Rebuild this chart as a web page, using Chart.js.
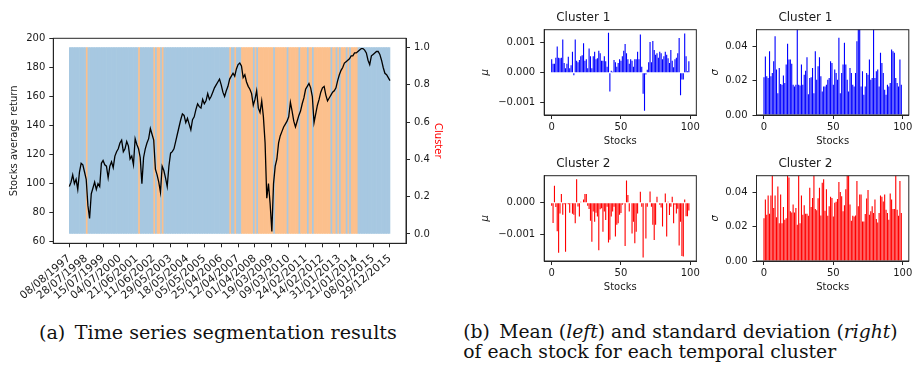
<!DOCTYPE html>
<html><head><meta charset="utf-8">
<script src="https://cdn.jsdelivr.net/npm/chart.js@4.4.1/dist/chart.umd.min.js"></script>
<style>
html,body{margin:0;padding:0;background:#fff;width:920px;height:367px;overflow:hidden;position:relative}
canvas{position:absolute}
.cap{position:absolute;font-family:"DejaVu Serif",serif;white-space:nowrap;color:#111;line-height:1}
</style></head><body>
<canvas id="ts" width="460" height="320" style="left:0;top:0"></canvas>
<canvas id="m1" width="232" height="150" style="left:470px;top:0"></canvas>
<canvas id="s1" width="218" height="150" style="left:702px;top:0"></canvas>
<canvas id="m2" width="232" height="150" style="left:470px;top:146px"></canvas>
<canvas id="s2" width="218" height="150" style="left:702px;top:146px"></canvas>
<div class="cap" id="capA">(a)&ensp;Time series segmentation results</div>
<div class="cap" id="capB1">(b)&ensp;Mean (<i>left</i>) and standard deviation (<i>right</i>)</div>
<div class="cap" id="capB2">of each stock for each temporal cluster</div>
<script>
// ---------- data ----------
const dateLabels = ['08/08/1997','28/07/1998','15/07/1999','04/07/2000','21/06/2001','11/06/2002','29/05/2003','18/05/2004','05/05/2005','25/04/2006','12/04/2007','01/04/2008','19/03/2009','09/03/2010','24/02/2011','14/02/2012','31/01/2013','21/01/2014','08/01/2015','29/12/2015'];
const sampleStep = 0.1; // samples per tick interval
const avgReturn = [98,101,106,100,103,96,108,114,113,108,103,
85,76,93,97,101,96,100,98,114,116,
113,112,104,112,115,111,119,122,124,128,
130,122,124,129,126,117,119,113,131,127,
124,118,100,118,124,128,131,138,134,130,
110,106,101,94,112,109,104,98,112,121,
122,124,129,134,139,144,148,147,142,145,
141,137,144,146,151,155,153,152,158,155,
157,162,158,160,163,166,168,170,172,168,
163,160,164,167,172,174,176,174,179,182,
183,181,173,175,170,167,165,162,154,158,
164,152,149,157,146,128,90,100,86,67,
100,112,117,128,133,136,139,141,143,146,
156,150,143,139,143,147,150,155,159,165,
167,169,166,160,142,148,154,158,163,166,
167,161,157,159,161,163,164,166,171,175,
178,180,183,184,185,186,188,188,190,190,
191,192,193,193,192,190,185,182,188,189,
190,191,191,189,185,180,176,175,173,171];
const clusterLabels = [
0,0,0,0,0,0,0,0,0,0,
1,0,0,0,0,0,0,0,0,0,
0,0,0,0,0,0,0,0,0,0,
0,0,0,0,0,0,0,0,0,0,
0,1,0,0,0,0,0,0,0,0,
1,0,1,1,0,1,0,0,0,0,
0,0,0,0,0,0,0,0,0,0,
0,0,0,0,0,0,0,0,0,0,
0,0,0,0,0,0,0,0,0,0,
0,0,0,0,0,1,0,0,1,0,
0,0,1,1,1,1,1,1,1,0,
1,0,1,1,1,1,1,1,1,1,
1,0,1,1,1,1,1,1,1,0,
1,1,1,1,1,1,0,1,1,1,
1,0,1,1,0,1,1,1,1,1,
1,1,1,1,1,0,1,1,0,1,
0,1,1,1,0,1,0,1,1,1,
1,0,0,0,0,0,0,0,0,0,
0,0,0,0,0,0,0,0,0,0];
const stockIds = [0,1,2,3,4,5,6,7,8,9,10,11,12,13,14,15,16,17,18,19,20,21,22,23,24,25,26,27,28,29,30,31,32,33,34,35,36,37,38,39,40,41,42,43,44,45,46,47,48,49,50,51,52,53,54,55,56,57,58,59,60,61,62,63,64,65,66,67,68,69,70,71,72,73,74,75,76,77,78,79,80,81,82,83,84,85,86,87,88,89,90,91,92,93,94,95,96,97,98,99];
const mu1 = [4.5e-4,3.0e-4,3.0e-4,5.0e-4,8.7e-4,5.0e-4,4.8e-4,5.0e-4,11.0e-4,3.2e-4,
1.5e-4,3.0e-4,5.3e-4,1.5e-4,2.5e-4,7.0e-4,-0.9e-4,11.0e-4,4.0e-4,3.5e-4,
4.2e-4,5.5e-4,5.8e-4,9.8e-4,4.0e-4,4.5e-4,1.5e-4,8.0e-4,5.5e-4,1.5e-4,
5.5e-4,7.0e-4,4.5e-4,4.8e-4,7.3e-4,6.5e-4,4.0e-4,4.0e-4,5.5e-4,3.8e-4,
2.0e-4,13.3e-4,-6.3e-4,0.6e-4,0.3e-4,4.2e-4,3.5e-4,2.0e-4,3.2e-4,4.5e-4,
4.0e-4,5.5e-4,7.3e-4,9.5e-4,6.5e-4,4.5e-4,3.0e-4,4.5e-4,4.0e-4,2.0e-4,
4.5e-4,4.5e-4,7.0e-4,4.5e-4,12.7e-4,2.0e-4,-7.0e-4,-12.7e-4,-0.6e-4,1.0e-4,
3.5e-4,10.2e-4,3.5e-4,10.5e-4,7.5e-4,6.0e-4,6.5e-4,5.0e-4,7.0e-4,6.5e-4,
4.5e-4,5.5e-4,7.0e-4,6.0e-4,4.8e-4,3.2e-4,7.5e-4,4.0e-4,1.8e-4,4.5e-4,
5.0e-4,6.5e-4,11.5e-4,-7.5e-4,-2.3e-4,-2.3e-4,13.0e-4,5.5e-4,0.5e-4,3.8e-4];
const sigma1 = [0.0221,0.0343,0.0227,0.0217,0.0374,0.0227,0.0246,0.0315,0.0461,0.0266,
0.0128,0.0276,0.0181,0.0177,0.0232,0.0187,0.0296,0.0418,0.0325,0.0325,
0.0300,0.0177,0.0167,0.0177,0.0520,0.0177,0.0173,0.0296,0.0177,0.0236,
0.0260,0.0339,0.0122,0.0217,0.0221,0.0276,0.0128,0.0374,0.0207,0.0286,
0.0339,0.0227,0.0138,0.0167,0.0167,0.0177,0.0207,0.0217,0.0315,0.0305,
0.0177,0.0266,0.0246,0.0207,0.0453,0.0128,0.0246,0.0296,0.0424,0.0296,
0.0207,0.0138,0.0276,0.0246,0.0177,0.0167,0.0246,0.0433,0.0520,0.0520,
0.0167,0.0256,0.0118,0.0167,0.0246,0.0236,0.0325,0.0207,0.0217,0.0520,
0.0217,0.0256,0.0266,0.0167,0.0365,0.0305,0.0246,0.0148,0.0118,0.0177,
0.0167,0.0187,0.0384,0.0374,0.0365,0.0217,0.0187,0.0167,0.0325,0.0177];
const mu2 = [-1.0e-4,-6.4e-4,5.3e-4,-1.4e-4,-9.0e-4,-15.8e-4,-3.4e-4,2.7e-4,-3.8e-4,-0.5e-4,
-15.5e-4,-0.3e-4,-0.5e-4,-3.2e-4,-0.3e-4,-3.5e-4,-3.8e-4,-6.5e-4,7.4e-4,-1.2e-4,
-4.4e-4,0.3e-4,-0.2e-4,1.0e-4,2.7e-4,2.7e-4,-1.0e-4,-2.0e-4,-5.7e-4,-12.3e-4,
-2.8e-4,-6.0e-4,-3.2e-4,-4.4e-4,-15.0e-4,-2.1e-4,-1.8e-4,-9.2e-4,-2.8e-4,-5.5e-4,
-1.3e-4,-12.6e-4,-11.7e-4,-4.4e-4,-2.8e-4,-1.3e-4,-10.7e-4,-7.0e-4,-6.5e-4,-3.8e-4,
-3.3e-4,-0.7e-4,-0.1e-4,-13.7e-4,7.0e-4,2.4e-4,-2.8e-4,-0.2e-4,-9.7e-4,-6.0e-4,
-12.8e-4,-9.2e-4,-3.4e-4,-0.2e-4,3.4e-4,-1.3e-4,-17.3e-4,-0.2e-4,-11.3e-4,-1.3e-4,
-0.2e-4,3.5e-4,-1.3e-4,-7.0e-4,-11.8e-4,-7.0e-4,1.9e-4,-0.2e-4,-0.7e-4,-1.5e-4,
-7.5e-4,-0.2e-4,2.9e-4,-10.7e-4,0.3e-4,-3.9e-4,-1.3e-4,1.9e-4,-6.5e-4,-0.7e-4,
-3.4e-4,-1.9e-4,-13.5e-4,-6.0e-4,-16.8e-4,-17.0e-4,1.0e-4,-4.3e-4,-4.3e-4,-2.5e-4];
const sigma2 = [0.0251,0.0360,0.0271,0.0384,0.0277,0.0384,0.0520,0.0311,0.0384,0.0257,
0.0436,0.0222,0.0390,0.0222,0.0317,0.0242,0.0251,0.0520,0.0489,0.0291,
0.0285,0.0331,0.0285,0.0311,0.0212,0.0520,0.0222,0.0384,0.0271,0.0327,
0.0277,0.0277,0.0265,0.0430,0.0317,0.0370,0.0520,0.0305,0.0297,0.0368,
0.0430,0.0267,0.0459,0.0479,0.0295,0.0420,0.0265,0.0321,0.0376,0.0370,
0.0261,0.0341,0.0347,0.0364,0.0463,0.0404,0.0380,0.0291,0.0327,0.0420,
0.0520,0.0520,0.0331,0.0236,0.0265,0.0261,0.0267,0.0469,0.0321,0.0390,
0.0390,0.0232,0.0232,0.0275,0.0366,0.0416,0.0271,0.0291,0.0321,0.0281,
0.0360,0.0246,0.0226,0.0281,0.0384,0.0376,0.0349,0.0390,0.0301,0.0281,
0.0242,0.0396,0.0360,0.0305,0.0305,0.0520,0.0301,0.0265,0.0469,0.0281];
const bgBlue = '#a7c8e1', bgOrange = '#fcc08d';

// ---------- chart helpers ----------
Chart.defaults.font.family = "'DejaVu Sans', sans-serif";
Chart.defaults.font.size = 10;
Chart.defaults.color = '#1a1a1a';
const axisColor = '#262626';
const tickGrid = {display:true, drawOnChartArea:false, drawTicks:true, tickLength:4, color:axisColor, lineWidth:1, offset:false};
const axisBorder = {display:true, color:axisColor, width:1};
const frame = {id:'frame', afterDatasetsDraw(chart){
  const {ctx, chartArea:a} = chart;
  ctx.save(); ctx.strokeStyle = axisColor; ctx.lineWidth = 1;
  ctx.strokeRect(a.left, a.top, a.right - a.left, a.bottom - a.top);
  ctx.restore();
}};
const baseOpts = {responsive:false, animation:false, devicePixelRatio:1, events:[]};

// ---------- time series ----------
new Chart(document.getElementById('ts'), {
  type:'bar',
  data:{datasets:[
    {type:'line', data: avgReturn.map((v,i)=>({x:i*sampleStep, y:v})), yAxisID:'y',
     borderColor:'#000', borderWidth:1.3, pointRadius:0, tension:0, order:1},
    {type:'bar', data: clusterLabels.map((c,k)=>({x:(k+0.5)*sampleStep, y:1})), yAxisID:'y2',
     backgroundColor: clusterLabels.map(c => c ? bgOrange : bgBlue),
     barPercentage:1, categoryPercentage:1, borderWidth:0, order:2}
  ]},
  options:Object.assign({}, baseOpts, {
    layout:{padding:{top:38.3, left:0, right:0, bottom:0}},
    plugins:{legend:{display:false}, tooltip:{enabled:false}, title:{display:false}},
    scales:{
      x:{type:'linear', min:-0.95, max:19.95, offset:false,
         afterBuildTicks: s => { s.ticks = dateLabels.map((_, i) => ({value:i})); },
         ticks:{callback:v => dateLabels[v], autoSkip:false, minRotation:40, maxRotation:40, padding:5, font:{size:10.8}},
         grid:tickGrid, border:axisBorder,
         afterFit: s => { s.height = 76.7; }},
      y:{position:'left', min:58.9, max:200.1,
         afterBuildTicks: s => { s.ticks = [60,80,100,120,140,160,180,200].map(v => ({value:v})); },
         ticks:{padding:4}, grid:tickGrid, border:axisBorder,
         title:{display:true, text:'Stocks average return', padding:{top:8, bottom:0}},
         afterFit: s => { s.width = 53.3; }},
      y2:{position:'right', min:-0.05, max:1.05,
         afterBuildTicks: s => { s.ticks = [0,0.2,0.4,0.6,0.8,1.0].map(v => ({value:v})); },
         ticks:{padding:4, callback:v => v.toFixed(1)}, grid:tickGrid, border:axisBorder,
         title:{display:true, text:'Cluster', color:'#ff0000', padding:{top:16, bottom:0}},
         afterFit: s => { s.width = 54; }}
    }
  }),
  plugins:[frame]
});

// ---------- small bar charts ----------
function smallBar(id, values, color, yMin, yMax, yTicks, yFmt, yTitle, titleText, axisW, padRight, yTitlePad){
  new Chart(document.getElementById(id), {
    type:'bar',
    data:{datasets:[{data: values.map((v,i)=>({x:stockIds[i], y:v})), backgroundColor:color,
      borderWidth:0, barPercentage:0.8, categoryPercentage:1}]},
    options:Object.assign({}, baseOpts, {
      layout:{padding:{top:0, left:0, right:padRight, bottom:0}},
      plugins:{legend:{display:false}, tooltip:{enabled:false},
        title:{display:true, text:titleText, color:'#1a1a1a', font:{size:12, weight:'normal'}, padding:{top:10.8, bottom:4.5}}},
      scales:{
        x:{type:'linear', min:-5.4, max:104.4, offset:false,
           afterBuildTicks: s => { s.ticks = [0,50,100].map(v => ({value:v})); },
           ticks:{padding:2, maxRotation:0}, grid:tickGrid, border:axisBorder,
           title:{display:true, text:'Stocks', padding:{top:0, bottom:2.3}},
           afterFit: s => { s.height = 35; }},
        y:{min:yMin, max:yMax,
           afterBuildTicks: s => { s.ticks = yTicks.map(v => ({value:v})); },
           ticks:{padding:5, callback:yFmt}, grid:tickGrid, border:axisBorder,
           title:{display:true, text:yTitle, font:{style:'italic', size:10}, padding:{top:yTitlePad, bottom:0}},
           afterFit: s => { s.width = axisW; }}
      }
    }),
    plugins:[frame]
  });
}
const fmtMu = v => (v < 0 ? '\u2212' : '') + Math.abs(v).toFixed(3);
const fmtSig = v => v.toFixed(2);
smallBar('m1', mu1, '#0000ff', -0.00141, 0.00143, [-0.001, 0, 0.001], fmtMu, 'μ', 'Cluster 1', 74.2, 5.5, 9);
smallBar('s1', sigma1, '#0000ff', 0, 0.05, [0, 0.02, 0.04], fmtSig, 'σ', 'Cluster 1', 54.5, 11.2, 7);
smallBar('m2', mu2, '#ff0000', -0.00184, 0.00085, [-0.001, 0], fmtMu, 'μ', 'Cluster 2', 74.2, 5.5, 9);
smallBar('s2', sigma2, '#ff0000', 0, 0.05, [0, 0.02, 0.04], fmtSig, 'σ', 'Cluster 2', 54.5, 11.2, 7);

// ---------- captions ----------
function fitSize(el, target){ el.style.fontSize = '100px'; const w = el.getBoundingClientRect().width; return 100 * target / w; }
const capA = document.getElementById('capA'), capB1 = document.getElementById('capB1'), capB2 = document.getElementById('capB2');
const fsA = fitSize(capA, 358), fsB = fitSize(capB2, 373);
function place(el, fs, left, baseline){ el.style.fontSize = fs + 'px'; el.style.left = left + 'px'; el.style.top = (baseline - 0.846 * fs) + 'px'; }
place(capA, fsA, 39, 339.3);
place(capB1, fsB, 463.3, 339.3);
place(capB2, fsB, 463.3, 359.3);
</script>
</body></html>
